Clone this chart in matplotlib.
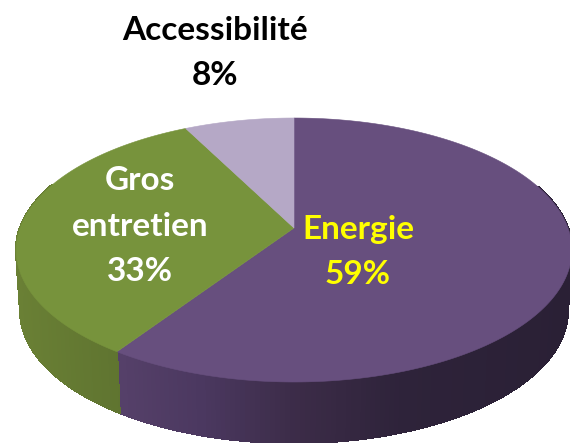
import numpy as np
import matplotlib
matplotlib.use("Agg")
import matplotlib.pyplot as plt
from matplotlib.collections import PolyCollection
from matplotlib.colors import to_rgb

labels = ["Energie", "Gros\nentretien", "Accessibilité"]
values = [59.4, 33.1, 7.5]
shown_percent = ["59%", "33%", "8%"]
top_colors = ["#674F7E", "#77933C", "#B5A8C6"]
text_colors = ["#FFFF00", "#FFFFFF", "#000000"]
label_xy = [(358, 252), (140, 226), (215, 53)]

CX, CY = 294, 228
A, B, K = 274.0, 128.33, 1 / 6
DEPTH, SHRINK = 61, 0.985


def project(theta, scale=1.0, dy=0.0):
    """theta clockwise from 12 o'clock, perspective-projected rim point."""
    u, v = np.sin(theta), np.cos(theta)
    w = 1 + K * v
    return CX + scale * A * u / w, CY - B * v / w + dy


def lerp_stops(x, xs, cols):
    c = np.array([to_rgb(k) for k in cols])
    return [np.interp(x, xs, c[:, i]) for i in range(3)]


fig = plt.figure(figsize=(5.7, 4.43), dpi=100)
ax = fig.add_axes([0, 0, 1, 1])
ax.set_xlim(0, 570)
ax.set_ylim(443, 0)
ax.axis("off")

edges = np.concatenate([[0], np.cumsum(values)]) / np.sum(values) * 2 * np.pi
purple_x = [120, 200, 294, 400, 570]
purple_c = ["#554069", "#4B3860", "#3C2C48", "#2E233A", "#2A2035"]
green_x = [15, 120]
green_c = ["#6A8035", "#5F7430"]

# side wall: strips along the rim, shaded by horizontal position
for i in (0, 1):
    th = np.linspace(edges[i], edges[i + 1], 241)
    x0, y0 = project(th)
    x1, y1 = project(th, SHRINK, DEPTH)
    polys, cols = [], []
    for j in range(len(th) - 1):
        if np.cos(th[j]) > 0.35:
            continue
        polys.append([(x0[j], y0[j]), (x0[j + 1], y0[j + 1]),
                      (x1[j + 1], y1[j + 1]), (x1[j], y1[j])])
        xm = 0.5 * (x0[j] + x0[j + 1])
        cols.append(lerp_stops(xm, purple_x, purple_c) if i == 0
                    else lerp_stops(xm, green_x, green_c))
    ax.add_collection(PolyCollection(polys, facecolors=cols, edgecolors=cols,
                                     linewidths=1.0, antialiaseds=False))

# top face
for i, col in enumerate(top_colors):
    th = np.linspace(edges[i], edges[i + 1], 300)
    x, y = project(th)
    ax.fill(np.r_[CX, x], np.r_[CY, y], color=col, lw=0.4, zorder=3)

font = ["Lato", "DejaVu Sans"]
for lab, pct, (tx, ty), tc in zip(labels, shown_percent, label_xy, text_colors):
    ax.text(tx, ty, f"{lab}\n{pct}", color=tc, ha="center", va="center",
            fontsize=24, fontweight="bold", family=font, linespacing=1.68,
            zorder=5)

fig.savefig("out.png", dpi=100)
